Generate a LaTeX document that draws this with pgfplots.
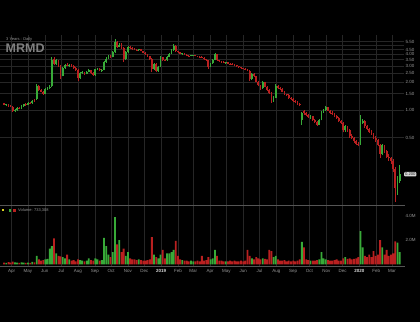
\documentclass[border=0pt]{standalone}
\usepackage{fontspec}
\setmainfont{Liberation Sans}
\usepackage{pgfplots}
\usepackage{pgfplotstable}
\pgfplotsset{compat=1.18}
\definecolor{gridc}{RGB}{38,38,38}
\definecolor{cgreen}{RGB}{56,170,56}
\definecolor{cred}{RGB}{185,32,32}
\definecolor{lbl}{RGB}{150,150,150}
\definecolor{sepc}{RGB}{85,85,85}
\pgfplotstableread{
d o h l c v
-14 1.18 1.20 1.12 1.14 150
-10 1.14 1.17 1.10 1.15 120
-6 1.15 1.16 1.08 1.10 180
-2 1.10 1.13 1.06 1.08 140
2 1.08 1.09 0.95 0.97 220
6 0.97 1.02 0.94 1.00 160
10 1.00 1.06 0.98 1.04 130
14 1.04 1.07 1.01 1.03 110
18 1.03 1.12 1.02 1.10 170
22 1.10 1.17 1.08 1.15 150
26 1.15 1.19 1.11 1.13 120
30 1.13 1.21 1.12 1.19 140
34 1.19 1.23 1.16 1.18 110
38 1.18 1.27 1.17 1.25 200
42 1.25 1.30 1.21 1.24 160
46 1.30 1.90 1.29 1.82 690
50 1.82 1.86 1.60 1.65 400
54 1.65 1.70 1.55 1.58 300
58 1.58 1.62 1.45 1.50 350
62 1.50 1.72 1.48 1.68 400
66 1.68 1.78 1.64 1.75 450
70 1.75 1.85 1.70 1.78 1290
74 1.80 3.70 1.78 3.50 1500
78 3.60 3.75 3.05 3.15 2150
82 3.15 3.55 3.10 3.45 900
86 3.45 3.50 2.90 3.00 700
90 3.00 3.05 2.15 2.35 650
94 2.35 2.95 2.30 2.85 600
98 2.85 3.15 2.80 3.10 500
102 3.10 3.25 2.98 3.05 800
106 3.05 3.15 2.95 3.10 400
110 3.10 3.15 2.92 3.00 300
114 3.00 3.05 2.78 2.82 350
118 2.82 2.90 2.65 2.72 250
122 2.72 2.75 2.05 2.20 400
126 2.20 2.60 2.15 2.52 350
130 2.52 2.62 2.45 2.55 300
134 2.55 2.60 2.40 2.45 250
138 2.45 2.62 2.42 2.58 300
142 2.58 2.75 2.55 2.70 500
146 2.70 2.72 2.45 2.50 350
150 2.50 2.55 2.32 2.38 300
154 2.38 2.78 2.35 2.75 500
158 2.75 2.88 2.70 2.80 400
162 2.80 2.85 2.62 2.68 300
166 2.68 2.75 2.60 2.70 350
170 2.70 3.40 2.68 3.30 2200
174 3.30 3.70 3.25 3.60 1500
178 3.60 3.95 3.55 3.85 800
182 3.85 3.90 3.62 3.72 600
186 3.72 4.30 3.70 4.20 1000
190 4.20 5.80 4.15 5.50 3900
194 5.50 5.60 4.70 4.85 1650
198 4.85 5.25 4.75 5.10 2000
202 5.10 5.30 4.60 4.70 1000
206 4.70 4.75 3.30 3.60 1300
210 3.60 4.30 3.50 4.20 700
214 4.20 4.90 4.15 4.80 1000
218 4.80 4.95 4.55 4.65 500
222 4.65 4.75 4.50 4.60 400
226 4.60 4.70 4.42 4.50 400
230 4.50 4.60 4.35 4.45 350
234 4.45 4.62 4.38 4.55 400
238 4.55 4.58 4.30 4.35 350
242 4.35 4.40 4.10 4.15 300
246 4.15 4.20 3.95 4.02 300
250 4.02 4.08 3.75 3.80 350
254 3.80 3.85 3.50 3.58 400
258 3.58 3.62 2.55 2.75 2260
262 2.75 3.25 2.70 3.15 800
266 3.15 3.20 2.55 2.65 600
270 2.65 3.00 2.60 2.95 500
274 2.95 3.80 2.90 3.70 800
278 3.70 3.78 3.40 3.48 1200
282 3.48 3.55 3.38 3.45 500
286 3.45 3.80 3.42 3.75 900
290 3.75 4.10 3.70 4.05 900
294 4.05 4.55 4.00 4.45 1000
298 4.45 5.15 4.40 4.95 1200
302 4.95 5.00 4.20 4.30 1950
306 4.30 4.40 4.10 4.20 700
310 4.20 4.25 4.02 4.08 400
314 4.08 4.15 3.98 4.10 350
318 4.10 4.12 3.92 3.98 300
322 3.98 4.02 3.82 3.88 300
326 3.88 3.92 3.78 3.85 250
330 3.85 3.95 3.80 3.90 300
334 3.90 3.98 3.85 3.92 250
338 3.92 3.96 3.80 3.85 250
342 3.85 3.88 3.72 3.78 300
346 3.78 3.82 3.70 3.74 250
350 3.74 3.80 3.62 3.66 700
354 3.66 3.70 3.50 3.55 300
358 3.55 3.60 3.40 3.45 350
362 3.45 3.50 2.78 2.95 600
366 2.95 3.25 2.90 3.20 400
370 3.20 3.55 3.15 3.50 500
374 3.50 4.15 3.45 4.00 1200
378 4.00 4.05 3.40 3.45 700
382 3.45 3.50 3.30 3.38 300
386 3.38 3.42 3.22 3.28 300
390 3.28 3.35 3.20 3.25 250
394 3.25 3.32 3.18 3.28 250
398 3.28 3.30 3.12 3.18 250
402 3.18 3.22 3.10 3.15 300
406 3.15 3.20 3.05 3.10 250
410 3.10 3.12 3.00 3.04 300
414 3.04 3.08 2.95 3.00 250
418 3.00 3.02 2.88 2.92 250
422 2.92 2.95 2.80 2.85 300
426 2.85 2.88 2.75 2.78 250
430 2.78 2.82 2.68 2.72 300
434 2.72 2.75 2.62 2.66 1200
438 2.66 2.68 2.05 2.15 700
442 2.15 2.50 2.10 2.45 500
446 2.45 2.50 2.25 2.30 400
450 2.30 2.32 1.98 2.02 600
454 2.02 2.05 1.80 1.85 500
458 1.85 1.88 1.66 1.72 400
462 1.72 2.05 1.70 2.00 500
466 2.00 2.02 1.75 1.78 450
470 1.78 1.82 1.62 1.66 400
474 1.66 1.70 1.50 1.54 1200
478 1.54 1.56 1.20 1.25 1100
482 1.25 1.40 1.22 1.35 600
486 1.35 1.90 1.33 1.82 700
490 1.82 1.85 1.68 1.72 400
494 1.72 1.78 1.65 1.70 300
498 1.70 1.72 1.55 1.58 300
502 1.58 1.60 1.45 1.48 350
506 1.48 1.50 1.40 1.45 250
510 1.45 1.48 1.32 1.35 300
514 1.35 1.38 1.28 1.32 250
518 1.32 1.34 1.22 1.25 300
522 1.25 1.28 1.19 1.22 250
526 1.22 1.24 1.14 1.16 300
530 1.16 1.18 1.10 1.12 400
534 0.78 0.95 0.68 0.92 1850
538 0.98 0.99 0.88 0.93 1400
542 0.93 0.95 0.86 0.88 400
546 0.88 0.90 0.82 0.84 350
550 0.84 0.87 0.80 0.85 300
554 0.85 0.86 0.76 0.78 300
558 0.78 0.80 0.72 0.74 300
562 0.74 0.76 0.67 0.69 350
566 0.69 0.80 0.68 0.78 400
570 0.78 0.98 0.77 0.95 1000
574 0.95 1.02 0.93 1.00 500
578 1.00 1.10 0.97 1.06 400
582 1.06 1.08 0.96 0.98 350
586 0.98 1.00 0.90 0.93 300
590 0.93 0.96 0.88 0.90 300
594 0.90 0.92 0.83 0.85 350
598 0.85 0.88 0.80 0.82 400
602 0.82 0.84 0.74 0.76 300
606 0.76 0.78 0.70 0.72 300
610 0.72 0.74 0.57 0.60 500
614 0.60 0.68 0.58 0.66 600
618 0.66 0.67 0.58 0.60 450
622 0.60 0.62 0.50 0.52 500
626 0.52 0.54 0.48 0.50 400
630 0.50 0.51 0.44 0.46 450
634 0.46 0.47 0.41 0.43 500
638 0.43 0.45 0.40 0.42 600
642 0.42 0.88 0.42 0.82 2750
646 0.72 0.80 0.70 0.76 1400
650 0.76 0.77 0.64 0.66 700
654 0.66 0.68 0.60 0.62 600
658 0.62 0.64 0.56 0.58 800
662 0.58 0.60 0.53 0.55 600
666 0.55 0.56 0.48 0.50 1100
670 0.50 0.52 0.45 0.47 700
674 0.47 0.48 0.40 0.42 800
678 0.42 0.43 0.30 0.33 2000
682 0.33 0.43 0.32 0.41 1400
686 0.41 0.42 0.34 0.36 800
690 0.36 0.37 0.30 0.31 1200
694 0.31 0.33 0.28 0.30 700
698 0.30 0.31 0.26 0.28 800
702 0.28 0.29 0.21 0.23 900
706 0.23 0.24 0.10 0.14 1900
710 0.14 0.19 0.12 0.17 1800
714 0.17 0.25 0.16 0.20 1000
}\ohlc
\pgfplotsset{
  upf/.style={x filter/.expression={\thisrow{c}>=\thisrow{o} ? x : nan}},
  dnf/.style={x filter/.expression={\thisrow{c}<\thisrow{o} ? x : nan}},
  candle/.style n args={2}{color=#1, draw=none, mark=none, forget plot,
    error bars/.cd, y dir=plus, y explicit, error mark=none,
    error bar style={draw=#1, color=#1, solid, line width=#2, line cap=butt}},
  panel/.style={anchor=south west, width=404pt, scale only axis,
    xmin=-21.5, xmax=722, axis line style={draw=none}, major tick length=0pt,
    xtick={0,30,61,91,122,153,183,214,244,275,306,334,365,395,426,456,487,518,548,579,609,640,671,700},
    grid style={gridc, line width=0.5pt},
    yticklabel pos=right,
    yticklabel style={font=\fontsize{4.5}{5}\selectfont, text=lbl, anchor=west, inner sep=1.5pt},
    clip=false},
}
\begin{document}
\begin{tikzpicture}
\useasboundingbox (0,0) rectangle (420pt,322pt);
\fill[black] (0,0) rectangle (420pt,322pt);
\begin{axis}[panel, at={(0pt,117pt)}, height=170pt,
  ymode=log, ymin=0.0926, ymax=6.49, xticklabels={},
  ytick={0.5,1,1.5,2,2.5,3,3.5,4,4.5,5,5.5},
  yticklabels={0.50,1.00,1.50,2.00,2.50,3.00,3.50,4.00,4.50,{},5.50},
  xmajorgrids, ymajorgrids]
\addplot[upf, candle={cgreen}{0.8pt}]
  table[x=d, y=l, y error plus expr=\thisrow{h}-\thisrow{l}] {\ohlc};
\addplot[dnf, candle={cred}{0.8pt}]
  table[x=d, y=l, y error plus expr=\thisrow{h}-\thisrow{l}] {\ohlc};
\addplot[upf, candle={cgreen}{1.8pt}]
  table[x=d, y=o, y error plus expr=\thisrow{c}-\thisrow{o}] {\ohlc};
\addplot[dnf, candle={cred}{1.8pt}]
  table[x=d, y=c, y error plus expr=\thisrow{o}-\thisrow{c}] {\ohlc};
\node[anchor=west, fill={rgb,255:red,215;green,215;blue,215}, text={rgb,255:red,40;green,40;blue,40},
  rounded corners=1pt, inner sep=0.8pt, font=\fontsize{4.2}{4.5}\selectfont] at (axis cs:722,0.2) {0.200};
\end{axis}
\begin{axis}[panel, at={(0pt,56pt)}, height=60pt,
  ymin=-140, ymax=4830,
  xticklabels={Apr,May,Jun,Jul,Aug,Sep,Oct,Nov,Dec,{\color{white!85!black}\bfseries 2019},Feb,Mar,Apr,May,Jun,Jul,Aug,Sep,Oct,Nov,Dec,{\color{white!85!black}\bfseries 2020},Feb,Mar},
  xticklabel style={font=\fontsize{4.5}{5}\selectfont, text=lbl, inner sep=1.5pt, yshift=-1.5pt},
  ytick={2000,4000}, yticklabels={2.0M,4.0M},
  xmajorgrids]
\addplot[ybar, bar width=1.8pt, bar shift=0pt, fill=cgreen, draw=none, upf] table[x=d, y=v] {\ohlc};
\addplot[ybar, bar width=1.8pt, bar shift=0pt, fill=cred, draw=none, dnf] table[x=d, y=v] {\ohlc};
\end{axis}
\draw[sepc, line width=0.8pt] (0,116.5pt) -- (405pt,116.5pt);
\draw[sepc, line width=0.6pt] (0,56pt) -- (405pt,56pt);
\fill[yellow!85!black] (2pt,110.6pt) rectangle (4.2pt,112.6pt);
\fill[cgreen] (8.5pt,110.2pt) rectangle (11.2pt,112.9pt);
\fill[cred] (13.3pt,110.2pt) rectangle (16pt,112.9pt);
\node[anchor=west, inner sep=0pt, font=\fontsize{4}{4}\selectfont, text=lbl] at (18pt,111.6pt) {Volume: 733,308};
\node[anchor=base west, inner sep=0pt, font=\fontsize{4}{4}\selectfont, text=lbl] at (6pt,281pt) {3 Years : Daily};
\node[anchor=base west, inner sep=0pt, font=\bfseries\fontsize{12.5}{13}\selectfont, text={rgb,255:red,128;green,128;blue,128}] at (5.5pt,269.3pt) {MRMD};
\end{tikzpicture}
\end{document}
